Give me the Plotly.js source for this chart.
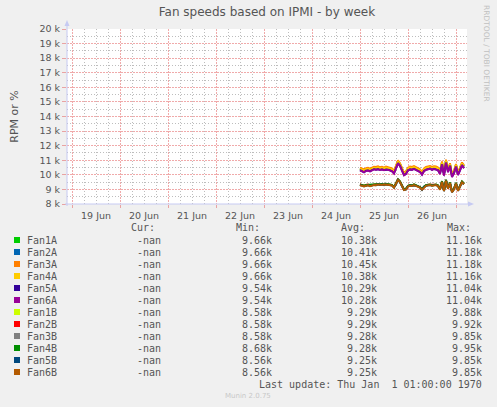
<!DOCTYPE html>
<html>
<head>
<meta charset="utf-8">
<script src="https://cdn.plot.ly/plotly-3.0.1.min.js"></script>
<style>
  html, body { margin: 0; padding: 0; background: #F0F0F0; }
  #chart { width: 497px; height: 407px; }
</style>
</head>
<body>
<div id="chart"></div>
<script>
// hours since 19 Jun 00:00, one sample per hour from 25 Jun 00:00
const hours = [144,145,146,147,148,149,150,151,152,153,154,155,156,157,158,159,160,161,162,163,164,165,166,167,168,
  169,170,171,172,173,174,175,176,177,178,179,180,181,182,183,184,185,186,187,188,189,190,191,192,193,194,195,196];

const fanNames = ['Fan1A','Fan2A','Fan3A','Fan4A','Fan5A','Fan6A','Fan1B','Fan2B','Fan3B','Fan4B','Fan5B','Fan6B'];
const fanColors = ['#00CC00','#0066B3','#FF8000','#FFCC00','#330099','#990099','#CCFF00','#FF0000','#808080','#008F00','#00487D','#B35A00'];

const fan1A = [10410,10320,10290,10360,10400,10340,10410,10480,10430,10510,10440,10460,10420,10470,10450,10380,10360,10190,10500,10890,10720,10330,10070,10140,10410,10470,10460,10500,10440,10380,10300,10090,10360,10440,10500,10510,10460,10490,10490,10400,10160,10810,10060,10940,10290,10700,9960,10190,10670,10080,10410,10750,10570];
const fan2A = [10440,10360,10310,10390,10420,10360,10450,10500,10470,10530,10460,10500,10440,10510,10470,10420,10380,10210,10540,10940,10740,10370,10090,10180,10430,10510,10480,10540,10460,10420,10320,10130,10380,10480,10520,10550,10480,10530,10510,10440,10180,10860,10080,10980,10310,10740,9980,10230,10690,10120,10430,10790,10590];
const fan3A = [10500,10420,10380,10450,10480,10420,10510,10560,10540,10590,10520,10560,10500,10570,10530,10480,10440,10270,10600,11000,10800,10430,10150,10240,10490,10570,10540,10600,10520,10480,10380,10190,10440,10540,10580,10610,10540,10590,10570,10500,10240,10920,10140,11040,10370,10800,10040,10290,10750,10180,10490,10850,10650];
const fan4A = [10420,10350,10300,10390,10410,10350,10440,10490,10460,10520,10450,10490,10430,10500,10460,10410,10370,10200,10530,10920,10730,10360,10080,10170,10420,10500,10470,10530,10450,10410,10310,10120,10370,10470,10510,10540,10470,10520,10500,10430,10170,10840,10070,10970,10300,10730,9970,10220,10680,10110,10420,10780,10580];
const fan5A = [10320,10240,10170,10280,10300,10250,10300,10390,10350,10380,10340,10370,10330,10360,10350,10300,10240,10100,10420,10800,10620,10230,9980,10070,10310,10370,10350,10410,10340,10300,10200,10020,10260,10340,10390,10430,10350,10410,10360,10320,10070,10720,9970,10840,10200,10620,9870,10120,10560,10000,10310,10670,10460];
const fan6A = [10300,10220,10180,10260,10290,10230,10310,10370,10340,10390,10330,10360,10310,10370,10340,10290,10250,10080,10400,10780,10600,10240,9960,10050,10300,10380,10340,10400,10330,10290,10190,10000,10250,10350,10380,10420,10340,10400,10370,10310,10050,10700,9950,10820,10180,10600,9850,10100,10550,9980,10300,10650,10450];
const fan1B = [9320,9280,9240,9280,9300,9260,9300,9330,9310,9350,9330,9350,9320,9360,9340,9320,9290,9150,9380,9670,9520,9220,8980,9040,9230,9290,9260,9320,9280,9230,9150,9010,9180,9270,9310,9320,9270,9320,9320,9250,9010,9540,8910,9630,9070,9450,8830,9030,9420,8930,9230,9510,9380];
const fan2B = [9340,9310,9250,9310,9330,9280,9300,9350,9330,9370,9340,9370,9320,9380,9350,9340,9300,9170,9400,9690,9540,9230,9000,9050,9240,9300,9280,9340,9290,9250,9150,9010,9180,9290,9330,9320,9290,9330,9330,9270,9020,9560,8930,9650,9080,9460,8850,9050,9440,8940,9250,9530,9400];
const fan3B = [9320,9290,9230,9270,9310,9250,9300,9320,9310,9360,9340,9350,9330,9360,9350,9320,9290,9140,9380,9660,9520,9230,8980,9030,9230,9280,9270,9320,9270,9230,9150,9000,9180,9270,9300,9320,9270,9310,9320,9250,9010,9540,8910,9620,9070,9440,8830,9030,9420,8920,9230,9500,9380];
const fan4B = [9350,9290,9260,9300,9310,9270,9330,9340,9350,9380,9340,9380,9330,9390,9350,9350,9310,9160,9410,9690,9550,9240,9000,9060,9250,9310,9270,9350,9300,9250,9170,9020,9200,9290,9330,9340,9290,9340,9340,9280,9030,9570,8930,9660,9090,9470,8860,9060,9450,8950,9260,9550,9410];
const fan5B = [9310,9250,9210,9240,9290,9230,9260,9310,9280,9350,9300,9340,9290,9350,9310,9310,9260,9130,9340,9650,9490,9210,8960,8990,9210,9250,9250,9290,9260,9200,9130,8970,9160,9240,9290,9290,9260,9280,9310,9220,8990,9510,8890,9590,9060,9410,8810,9010,9390,8910,9210,9470,9360];
const fan6B = [9300,9260,9200,9250,9280,9220,9270,9300,9290,9340,9310,9330,9300,9340,9320,9300,9270,9120,9350,9640,9500,9200,8950,9000,9200,9260,9240,9300,9250,9210,9120,8980,9150,9250,9280,9300,9250,9290,9300,9230,8980,9520,8880,9600,9050,9420,8800,9000,9400,8900,9200,9480,9350];
const fanSeries = [fan1A, fan2A, fan3A, fan4A, fan5A, fan6A, fan1B, fan2B, fan3B, fan4B, fan5B, fan6B];

// legend table (as printed by munin)
const curVals = ['-nan','-nan','-nan','-nan','-nan','-nan','-nan','-nan','-nan','-nan','-nan','-nan'];
const minVals = ['9.66k','9.66k','9.66k','9.66k','9.54k','9.54k','8.58k','8.58k','8.58k','8.68k','8.56k','8.56k'];
const avgVals = ['10.38k','10.41k','10.45k','10.38k','10.29k','10.28k','9.29k','9.29k','9.28k','9.28k','9.25k','9.25k'];
const maxVals = ['11.16k','11.18k','11.18k','11.16k','11.04k','11.04k','9.88k','9.92k','9.85k','9.95k','9.85k','9.85k'];

// axes
const yTicks = [8000,9000,10000,11000,12000,13000,14000,15000,16000,17000,18000,19000,20000];
const yTickText = ['8 k','9 k','10 k','11 k','12 k','13 k','14 k','15 k','16 k','17 k','18 k','19 k','20 k'];
const yMinor = [8500,9500,10500,11500,12500,13500,14500,15500,16500,17500,18500,19500];
const dayTicks = [0,24,48,72,96,120,144,168,192];
const dayLabels = ['19 Jun','20 Jun','21 Jun','22 Jun','23 Jun','24 Jun','25 Jun','26 Jun',''];
const quarterTicks = [6,12,18,30,36,42,54,60,66,78,84,90,102,108,114,126,132,138,150,156,162,174,180,186];

// plot box in pixels
const PL = 67, PW = 400, PT = 29, PH = 175;
const px = x => (x - PL) / PW;
const py = y => (PT + PH - y) / PH;

const MONO = 'DejaVu Sans Mono';
const TXT = '#555555';
const MAJOR = 'rgba(228,100,100,0.55)', MINOR = '#BDBDBD';

const data = fanSeries.map((ys, i) => ({
  x: hours, y: ys, name: fanNames[i], type: 'scatter', mode: 'lines',
  line: { color: fanColors[i], width: 1.9 }, hoverinfo: 'skip'
}));

const annotations = [];
const shapes = [];
const note = (text, x, y, anchor, font) => annotations.push({
  text, xref: 'paper', yref: 'paper', x: px(x), y: py(y), xanchor: anchor, yanchor: 'middle',
  showarrow: false, borderpad: 0, font: Object.assign({ family: MONO, size: 10, color: TXT }, font || {})
});

note('Cur:', 156, 227, 'right');
note('Min:', 261, 227, 'right');
note('Avg:', 366, 227, 'right');
note('Max:', 472, 227, 'right');
fanNames.forEach((name, i) => {
  const y = 240 + i * 12;
  shapes.push({ type: 'rect', xref: 'paper', yref: 'paper', x0: px(14), x1: px(20), y0: py(y + 3), y1: py(y - 3),
    fillcolor: fanColors[i], line: { width: 0 } });
  note(name, 26, y, 'left');
  note(curVals[i], 162, y, 'right');
  note(minVals[i], 273, y, 'right');
  note(avgVals[i], 378, y, 'right');
  note(maxVals[i], 483, y, 'right');
});
note('Last update: Thu Jan  1 01:00:00 1970', 483, 384, 'right');
note('Munin 2.0.75', 248, 396, 'center', { family: 'DejaVu Sans', size: 7, color: '#C8C8C8' });
note('RRDTOOL / TOBI OETIKER', 487, 53, 'center', { family: 'DejaVu Sans', size: 7.5, color: '#C0C0C0' });
annotations[annotations.length - 1].textangle = 90;

// axis lines with the little rrdtool arrows
const AX = '#C6CAF2';
shapes.push({ type: 'line', xref: 'paper', yref: 'paper', x0: px(67), x1: px(67), y0: py(206), y1: py(24), line: { color: AX, width: 1 } });
shapes.push({ type: 'line', xref: 'paper', yref: 'paper', x0: px(65), x1: px(470), y0: py(204), y1: py(204), line: { color: AX, width: 1 } });
shapes.push({ type: 'path', xref: 'paper', yref: 'paper', fillcolor: AX, line: { width: 0 },
  path: `M ${px(64.5)} ${py(26)} L ${px(69.5)} ${py(26)} L ${px(67)} ${py(20)} Z` });
shapes.push({ type: 'path', xref: 'paper', yref: 'paper', fillcolor: AX, line: { width: 0 },
  path: `M ${px(468)} ${py(201.5)} L ${px(468)} ${py(206.5)} L ${px(474)} ${py(204)} Z` });

const layout = {
  width: 497, height: 407,
  margin: { l: PL, r: 497 - PL - PW, t: PT, b: 407 - PT - PH },
  paper_bgcolor: '#F0F0F0', plot_bgcolor: '#FFFFFF',
  showlegend: false,
  title: { text: 'Fan speeds based on IPMI - by week', font: { family: 'DejaVu Sans', size: 12, color: TXT },
    x: 0.5, xref: 'paper', xanchor: 'center', y: 1 - 12 / 407, yref: 'container', yanchor: 'middle' },
  xaxis: {
    range: [-2.5, 197.5], fixedrange: true, zeroline: false, showline: false,
    tickvals: dayTicks, ticktext: dayLabels, ticklabelshift: 24,
    ticks: 'outside', ticklen: 3, tickcolor: MAJOR,
    tickfont: { family: 'DejaVu Sans', size: 9.5, color: TXT },
    showgrid: true, gridcolor: MAJOR, griddash: '1.5px,1.5px', gridwidth: 1,
    minor: { tickvals: quarterTicks, showgrid: true, gridcolor: MINOR, griddash: '1px,2px', gridwidth: 1, ticks: '' }
  },
  yaxis: {
    range: [8000, 20000], fixedrange: true, zeroline: false, showline: false,
    tickvals: yTicks, ticktext: yTickText,
    ticks: 'outside', ticklen: 4, tickcolor: MAJOR,
    tickfont: { family: 'DejaVu Sans', size: 9.5, color: TXT },
    showgrid: true, gridcolor: MAJOR, griddash: '1.5px,1.5px', gridwidth: 1,
    minor: { tickvals: yMinor, showgrid: true, gridcolor: MINOR, griddash: '1px,2px', gridwidth: 1, ticks: '' },
    title: { text: 'RPM or %', font: { family: 'DejaVu Sans', size: 11, color: TXT }, standoff: 18 }
  },
  annotations, shapes
};

Plotly.newPlot('chart', data, layout, { displayModeBar: false, staticPlot: true });
</script>
</body>
</html>
